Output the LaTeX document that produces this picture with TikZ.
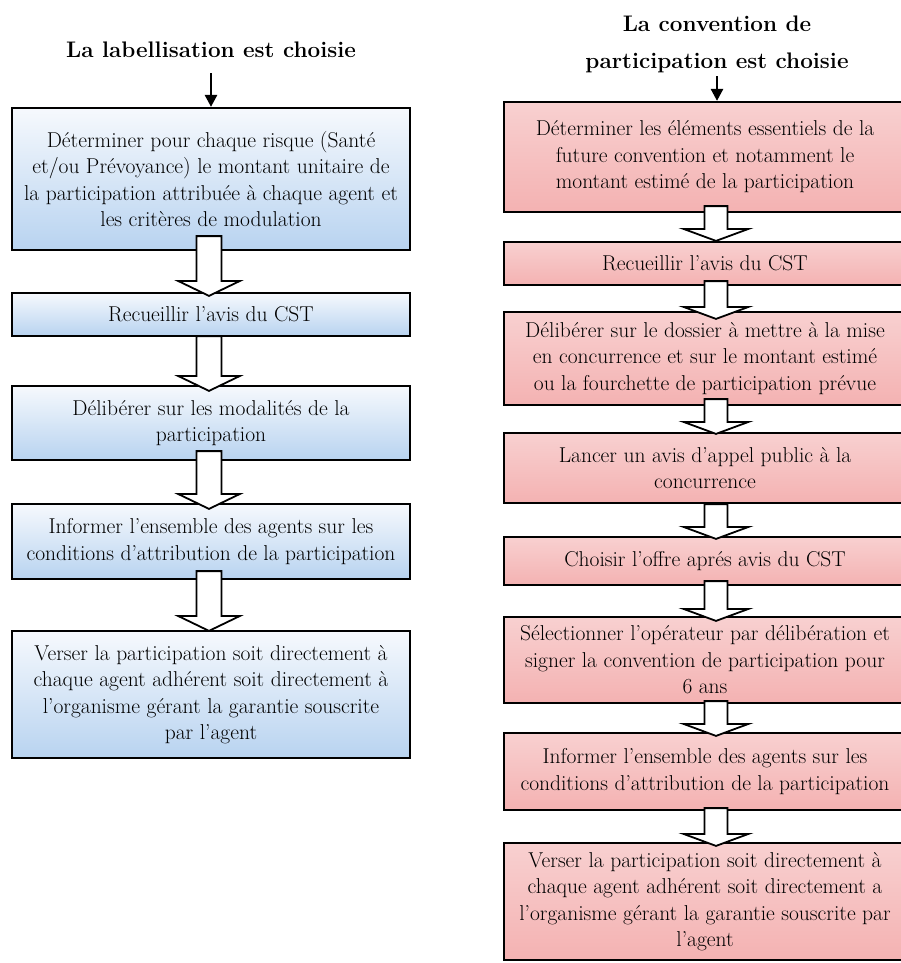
\documentclass[tikz,border=0pt]{standalone}
\usetikzlibrary{calc,arrows.meta}

\definecolor{bluetop}{RGB}{246,249,253}
\definecolor{bluebot}{RGB}{184,211,240}
\definecolor{pinktop}{RGB}{248,208,208}
\definecolor{pinkbot}{RGB}{244,178,178}

\tikzset{
  stepbox/.style={draw=black, line width=2.2pt, align=center, inner sep=0pt,
    font=\fontsize{21.5}{26.5}\selectfont},
  bluebox/.style={stepbox, top color=bluetop, bottom color=bluebot, minimum width=398pt},
  pinkbox/.style={stepbox, top color=pinktop, bottom color=pinkbot, minimum width=402pt},
  hollow/.style={draw=black, line width=1.8pt, fill=white, line join=miter},
  choice/.style={align=center, font=\fontsize{22.5}{37}\selectfont\bfseries},
  down/.style={line width=2.6pt, -{Triangle[length=12pt,width=12pt]}}
}

% hollow block arrow: from, to, x shift, rise into upper box, drop into lower box
\newcommand{\blockarrow}[5]{%
  \draw[hollow] let \p1=($(#1.south)+(#3,0)$), \p2=(#2.north) in
    (\x1-\shw,\y1+#4) -- (\x1+\shw,\y1+#4) -- (\x1+\shw,\y2-#5+\hlen)
    -- (\x1+\hhw,\y2-#5+\hlen) -- (\x1,\y2-#5) -- (\x1-\hhw,\y2-#5+\hlen)
    -- (\x1-\shw,\y2-#5+\hlen) -- cycle;}

\begin{document}
\begin{tikzpicture}[x=1pt,y=-1pt]
\useasboundingbox (0,0) rectangle (901,963);
\clip (0,0) rectangle (901,963);

% labellisation
\node[choice] (ltitle) at (211,50) {La labellisation est choisie};
\node[bluebox, minimum height=142pt] (l1) at (211,179)
  {Déterminer pour chaque risque (Santé\\ et/ou Prévoyance) le montant unitaire de\\
   la participation attribuée à chaque agent et\\ les critères de modulation};
\node[bluebox, minimum height=43pt] (l2) at (211,314.5) {Recueillir l'avis du CST};
\node[bluebox, minimum height=74pt] (l3) at (211,423)
  {Délibérer sur les modalités de la\\ participation};
\node[bluebox, minimum height=75pt] (l4) at (211,541.5)
  {Informer l'ensemble des agents sur les\\ conditions d'attribution de la participation};
\node[bluebox, minimum height=127pt] (l5) at (211,694.5)
  {Verser la participation soit directement à\\ chaque agent adhérent soit directement à\\
   l'organisme gérant la garantie souscrite\\ par l'agent};

\draw[down] ([yshift=-12pt]ltitle.south) -- (l1.north);
\def\shw{12.5pt}\def\hhw{31pt}\def\hlen{15pt}
\blockarrow{l1}{l2}{-2}{15pt}{4pt}
\blockarrow{l2}{l3}{-2}{1pt}{6pt}
\blockarrow{l3}{l4}{-2}{10pt}{6pt}
\blockarrow{l4}{l5}{-2}{9pt}{1pt}

% convention de participation
\node[choice] (rtitle) at (717,44) {La convention de\\ participation est choisie};
\node[pinkbox, minimum height=110pt] (r1) at (705,157)
  {Déterminer les éléments essentiels de la\\ future convention et notamment le\\
   montant estimé de la participation};
\node[pinkbox, minimum height=43pt] (r2) at (705,263.5) {Recueillir l'avis du CST};
\node[pinkbox, minimum height=93pt] (r3) at (705,358.5)
  {Délibérer sur le dossier à mettre à la mise\\ en concurrence et sur le montant estimé\\
   ou la fourchette de participation prévue};
\node[pinkbox, minimum height=70pt] (r4) at (705,468)
  {Lancer un avis d'appel public à la\\ concurrence};
\node[pinkbox, minimum height=48pt] (r5) at (705,561) {Choisir l’offre aprés avis du CST};
\node[pinkbox, minimum height=86pt] (r6) at (705,660)
  {Sélectionner l’opérateur par délibération et\\ signer la convention de participation pour\\ 6 ans};
\node[pinkbox, minimum height=77pt] (r7) at (705,771.5)
  {Informer l'ensemble des agents sur les\\ conditions d'attribution de la participation};
\node[pinkbox, minimum height=117pt] (r8) at (705,901.5)
  {Verser la participation soit directement à\\ chaque agent adhérent soit directement a\\
   l'organisme gérant la garantie souscrite par\\ l'agent};

\draw[down] (rtitle.south) -- (rtitle.south |- r1.north);
\def\shw{11.5pt}\def\hhw{32.5pt}\def\hlen{12pt}
\blockarrow{r1}{r2}{11}{7pt}{0pt}
\blockarrow{r2}{r3}{11}{5pt}{8pt}
\blockarrow{r3}{r4}{11}{7pt}{2pt}
\blockarrow{r4}{r5}{11}{0pt}{3pt}
\blockarrow{r5}{r6}{11}{5pt}{5pt}
\blockarrow{r6}{r7}{11}{3pt}{4pt}
\blockarrow{r7}{r8}{11}{3pt}{4pt}
\end{tikzpicture}
\end{document}
